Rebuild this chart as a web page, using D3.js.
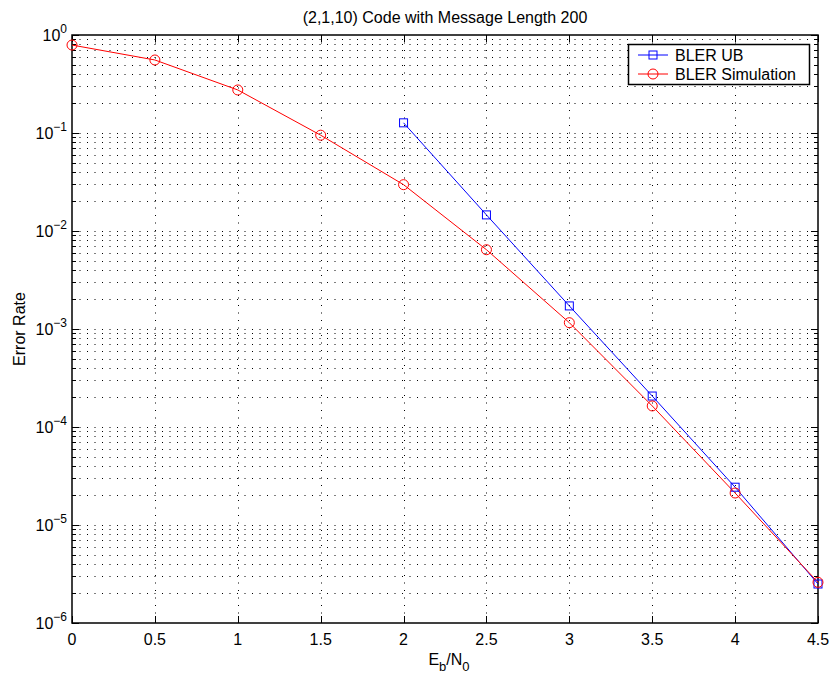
<!DOCTYPE html>
<html><head><meta charset="utf-8">
<script src="https://cdn.jsdelivr.net/npm/d3@7"></script>
<style>body{margin:0;background:#fff}svg{font-family:"Liberation Sans",Arial,Helvetica,sans-serif}</style>
</head><body><svg id="c" width="832" height="675"></svg>
<script>
const ebn0 = [0, 0.5, 1, 1.5, 2, 2.5, 3, 3.5, 4, 4.5];
const blerSim = [0.79, 0.556, 0.275, 0.095, 0.0297, 0.00644, 0.00116, 0.000164, 0.0000212, 0.0000026];
const ubX = [2, 2.5, 3, 3.5, 4, 4.5];
const blerUB = [0.127, 0.0146, 0.00172, 0.000207, 0.0000243, 0.0000025];
const xTicks = [0, 0.5, 1, 1.5, 2, 2.5, 3, 3.5, 4, 4.5];
const xTickLabels = ["0", "0.5", "1", "1.5", "2", "2.5", "3", "3.5", "4", "4.5"];
const yExps = [0, -1, -2, -3, -4, -5, -6];
const titleText = "(2,1,10) Code with Message Length 200";
const legendLabels = ["BLER UB", "BLER Simulation"];

const L = 72, R = 818, T = 35, B = 623;
const svg = d3.select("#c");
const x = d3.scaleLinear().domain([0, 4.5]).range([L, R]);
const y = d3.scaleLog().domain([1e-6, 1]).range([B, T]);

// grid
const minorVals = [];
for (let e = -6; e < 0; e++) for (let m = 1; m <= 9; m++) minorVals.push(m * Math.pow(10, e));
minorVals.push(1);
const g = svg.append("g");
g.selectAll("line.hg").data(minorVals.filter(v => v > 1e-6 && v < 1)).join("line")
  .attr("x1", L).attr("x2", R).attr("y1", d => Math.round(y(d)) + 0.5).attr("y2", d => Math.round(y(d)) + 0.5)
  .attr("stroke", "#000").attr("stroke-width", 1).attr("stroke-dasharray", "1,6.5");
g.selectAll("line.vg").data(xTicks.slice(1, -1)).join("line")
  .attr("x1", d => Math.round(x(d)) + 0.5).attr("x2", d => Math.round(x(d)) + 0.5).attr("y1", T).attr("y2", B)
  .attr("stroke", "#000").attr("stroke-width", 1).attr("stroke-dasharray", "1,6.5");

// ticks
const tk = svg.append("g").attr("stroke", "#000").attr("stroke-width", 1);
minorVals.forEach(v => {
  const isMajor = Math.abs(Math.log10(v) - Math.round(Math.log10(v))) < 1e-9;
  const len = isMajor ? 7 : 4;
  const yy = Math.round(y(v)) + 0.5;
  tk.append("line").attr("x1", L).attr("x2", L + len).attr("y1", yy).attr("y2", yy);
  tk.append("line").attr("x1", R).attr("x2", R - len).attr("y1", yy).attr("y2", yy);
});
xTicks.forEach(v => {
  const xx = Math.round(x(v)) + 0.5;
  tk.append("line").attr("x1", xx).attr("x2", xx).attr("y1", B).attr("y2", B - 7);
  tk.append("line").attr("x1", xx).attr("x2", xx).attr("y1", T).attr("y2", T + 7);
});

// frame
svg.append("rect").attr("x", L).attr("y", T).attr("width", R - L).attr("height", B - T)
  .attr("fill", "none").attr("stroke", "#000").attr("stroke-width", 1.5);

// x tick labels
svg.append("g").selectAll("text").data(xTicks).join("text")
  .attr("x", d => x(d)).attr("y", B + 22).attr("text-anchor", "middle")
  .attr("font-size", 16).attr("fill", "#000").text((d, i) => xTickLabels[i]);

// y tick labels
const yl = svg.append("g");
yExps.forEach(e => {
  const t = yl.append("text").attr("x", 35).attr("y", y(Math.pow(10, e)) + 6)
    .attr("font-size", 16).attr("fill", "#000");
  t.append("tspan").text("10");
  t.append("tspan").attr("dy", -8).attr("font-size", 12).text(e === 0 ? "0" : "\u2212" + Math.abs(e));
});
yl.selectAll("text").each(function() {
  const w = this.getComputedTextLength();
  d3.select(this).attr("x", 67 - w);
});

// title and axis labels
svg.append("text").attr("x", 445).attr("y", 23).attr("text-anchor", "middle")
  .attr("font-size", 16).attr("fill", "#000").text(titleText);
const xl = svg.append("text").attr("x", 449).attr("y", 665).attr("text-anchor", "middle")
  .attr("font-size", 16).attr("fill", "#000");
xl.append("tspan").text("E");
xl.append("tspan").attr("dy", 6).attr("font-size", 13).text("b");
xl.append("tspan").attr("dy", -6).text("/N");
xl.append("tspan").attr("dy", 6).attr("font-size", 13).text("0");
svg.append("text").attr("transform", `translate(25,${(T + B) / 2}) rotate(-90)`).attr("text-anchor", "middle")
  .attr("font-size", 16).attr("fill", "#000").text("Error Rate");

// series
const line = d3.line().x(d => x(d[0])).y(d => y(d[1]));
const ub = ubX.map((v, i) => [v, blerUB[i]]);
const sim = ebn0.map((v, i) => [v, blerSim[i]]);
svg.append("path").datum(ub).attr("d", line).attr("fill", "none").attr("stroke", "#0000ff").attr("stroke-width", 1);
svg.append("path").datum(sim).attr("d", line).attr("fill", "none").attr("stroke", "#ff0000").attr("stroke-width", 1);
svg.append("g").selectAll("rect").data(ub).join("rect")
  .attr("x", d => x(d[0]) - 4).attr("y", d => y(d[1]) - 4).attr("width", 8).attr("height", 8)
  .attr("fill", "none").attr("stroke", "#0000ff").attr("stroke-width", 1);
svg.append("g").selectAll("circle").data(sim).join("circle")
  .attr("cx", d => x(d[0])).attr("cy", d => y(d[1])).attr("r", 5)
  .attr("fill", "none").attr("stroke", "#ff0000").attr("stroke-width", 1);

// legend
const lg = svg.append("g");
lg.append("rect").attr("x", 628.5).attr("y", 44.5).attr("width", 181).attr("height", 40)
  .attr("fill", "#fff").attr("stroke", "#000").attr("stroke-width", 1.5);
const cols = ["#0000ff", "#ff0000"];
legendLabels.forEach((lab, i) => {
  const yy = 55 + i * 19;
  lg.append("line").attr("x1", 638).attr("x2", 668).attr("y1", yy).attr("y2", yy).attr("stroke", cols[i]);
  if (i === 0) lg.append("rect").attr("x", 649).attr("y", yy - 4).attr("width", 8).attr("height", 8)
    .attr("fill", "none").attr("stroke", cols[i]);
  else lg.append("circle").attr("cx", 653).attr("cy", yy).attr("r", 5).attr("fill", "none").attr("stroke", cols[i]);
  lg.append("text").attr("x", 675).attr("y", yy + 6).attr("font-size", 16).attr("fill", "#000").text(lab);
});
</script></body></html>
